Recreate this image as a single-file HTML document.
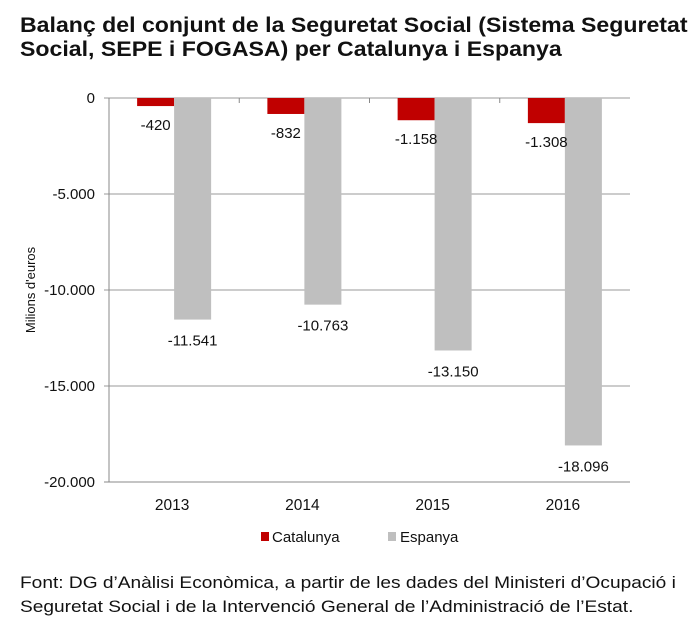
<!DOCTYPE html>
<html><head><meta charset="utf-8"><style>
body{margin:0;background:#fff;font-family:"Liberation Sans",Arial,sans-serif;}
.t{position:absolute;left:20px;top:14px;font-weight:bold;font-size:21px;line-height:24px;color:#111;white-space:nowrap;transform:scaleX(1.1);transform-origin:0 0;}
.f{position:absolute;left:20px;top:571px;font-size:17px;line-height:24px;color:#111;white-space:nowrap;transform:scaleX(1.125);transform-origin:0 0;}
</style></head><body>
<div style="position:relative;width:697px;height:622px;overflow:hidden">
<div class="t">Balanç del conjunt de la Seguretat Social (Sistema Seguretat<br>Social, SEPE i FOGASA) per Catalunya i Espanya</div>
<svg id="c" width="697" height="622" style="position:absolute;left:0;top:0" font-family="Liberation Sans, Arial, sans-serif"></svg>
<div class="f">Font: DG d’Anàlisi Econòmica, a partir de les dades del Ministeri d’Ocupació i<br>Seguretat Social i de la Intervenció General de l’Administració de l’Estat.</div>
</div>
<script>
const categories=["2013","2014","2015","2016"];
const catalunya=[-420,-832,-1158,-1308];
const espanya=[-11541,-10763,-13150,-18096];
const yTicks=[0,-5000,-10000,-15000,-20000];
const yTickLabels=["0","-5.000","-10.000","-15.000","-20.000"];
const catLabels=["-420","-832","-1.158","-1.308"];
const espLabels=["-11.541","-10.763","-13.150","-18.096"];
const NS="http://www.w3.org/2000/svg",svg=document.getElementById('c');
const x0=109,x1=630,y0=98,y1=482;
const y=v=>y0+(v/-20000)*(y1-y0);
const cw=(x1-x0)/categories.length;
const xc=i=>x0+cw*(i+0.5);
function mk(t,a,txt){const e=document.createElementNS(NS,t);for(const k in a)e.setAttribute(k,a[k]);if(txt!=null)e.textContent=txt;svg.appendChild(e);return e;}
yTicks.forEach((v,i)=>{
 const g=mk('line',{x1:x0-5,x2:x1,y1:y(v),y2:y(v),stroke:i==yTicks.length-1?'#888':'#999','stroke-width':1});
 
 const t=mk('text',{x:95,y:y(v)+5,'text-anchor':'end','font-size':15,fill:'#111'},yTickLabels[i]);
 
});
const ax=mk('line',{x1:x0,x2:x0,y1:y0,y2:y1,stroke:'#888'});

for(let i=1;i<categories.length;i++){const tk=mk('line',{x1:x0+cw*i,x2:x0+cw*i,y1:y0,y2:y0+5,stroke:'#888'});}
const bw=37;
categories.forEach((c,i)=>{
 const cx=xc(i);
 const b1=mk('rect',{x:cx-bw,y:y0,width:bw,height:y(catalunya[i])-y0,fill:'#c00000'});
 
 const b2=mk('rect',{x:cx,y:y0,width:bw,height:y(espanya[i])-y0,fill:'#bfbfbf'});
 
 const l1=mk('text',{x:cx-bw/2,y:y(catalunya[i])+24,'text-anchor':'middle','font-size':15,fill:'#111'},catLabels[i]);
 
 const l2=mk('text',{x:cx+bw/2,y:y(espanya[i])+26,'text-anchor':'middle','font-size':15,fill:'#111'},espLabels[i]);
 
 const xl=mk('text',{x:cx-2,y:510,'text-anchor':'middle','font-size':15.5,fill:'#111'},c);
 
});
const yt=mk('text',{transform:'translate(35,290) rotate(-90)','text-anchor':'middle','font-size':13,fill:'#111'},"Milions d'euros");

const s1=mk('rect',{x:261,y:532,width:8,height:9,fill:'#c00000'});
const t1=mk('text',{x:272,y:542,'font-size':15,fill:'#111'},'Catalunya');
const s2=mk('rect',{x:388,y:532,width:8,height:9,fill:'#bfbfbf'});
const t2=mk('text',{x:400,y:542,'font-size':15,fill:'#111'},'Espanya');
</script>
</body></html>
